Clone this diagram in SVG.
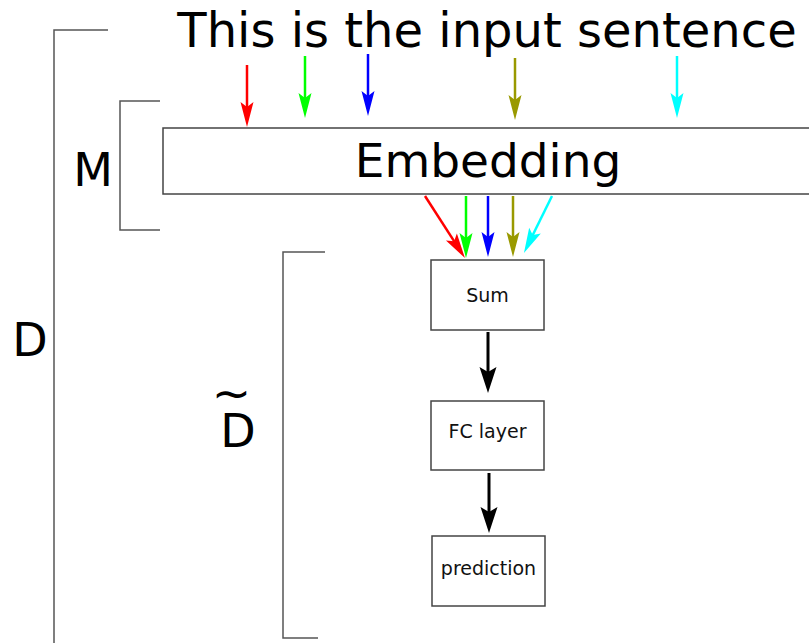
<svg xmlns="http://www.w3.org/2000/svg" width="809" height="643" viewBox="0 0 809 643">
<style>
text{font-family:"DejaVu Sans","Liberation Sans",sans-serif;fill:#000}
.big{font-size:48px}
.lbl{font-size:46px}
.sm{font-size:19px;fill:#111}
.box{fill:#fff;stroke:#444;stroke-width:1.5}
.br{fill:none;stroke:#555;stroke-width:1.5}
.a{fill:none;stroke-width:2.5}
.k{fill:none;stroke:#000;stroke-width:3}
</style>
<defs>
<marker id="mr" markerUnits="userSpaceOnUse" orient="auto" refX="0" refY="0" markerWidth="40" markerHeight="40" viewBox="-20 -20 40 40" overflow="visible"><path d="M18,0 L-7,-6.5 L-2,0 L-7,6.5 Z" fill="#ff0000"/></marker>
<marker id="mg" markerUnits="userSpaceOnUse" orient="auto" refX="0" refY="0" markerWidth="40" markerHeight="40" viewBox="-20 -20 40 40" overflow="visible"><path d="M18,0 L-7,-6.5 L-2,0 L-7,6.5 Z" fill="#00ff00"/></marker>
<marker id="mb" markerUnits="userSpaceOnUse" orient="auto" refX="0" refY="0" markerWidth="40" markerHeight="40" viewBox="-20 -20 40 40" overflow="visible"><path d="M18,0 L-7,-6.5 L-2,0 L-7,6.5 Z" fill="#0000ff"/></marker>
<marker id="mo" markerUnits="userSpaceOnUse" orient="auto" refX="0" refY="0" markerWidth="40" markerHeight="40" viewBox="-20 -20 40 40" overflow="visible"><path d="M18,0 L-7,-6.5 L-2,0 L-7,6.5 Z" fill="#999900"/></marker>
<marker id="mc" markerUnits="userSpaceOnUse" orient="auto" refX="0" refY="0" markerWidth="40" markerHeight="40" viewBox="-20 -20 40 40" overflow="visible"><path d="M18,0 L-7,-6.5 L-2,0 L-7,6.5 Z" fill="#00ffff"/></marker>
<marker id="mk" markerUnits="userSpaceOnUse" orient="auto" refX="0" refY="0" markerWidth="40" markerHeight="40" viewBox="-20 -20 40 40" overflow="visible"><path d="M20,0 L-6,-8.5 L-1,0 L-6,8.5 Z" fill="#000"/></marker>
</defs>
<rect width="809" height="643" fill="#fff"/>

<g id="brackets">
<path class="br" d="M108,30 H54 V650"/>
<path class="br" d="M160,101 H120 V230 H160"/>
<path class="br" d="M325,252 H283 V638 H318"/>
</g>

<g id="labels">
<text class="big" x="487" y="47" text-anchor="middle">This is the input sentence</text>
<text class="lbl" x="93" y="186" text-anchor="middle">M</text>
<text class="lbl" x="30" y="356" text-anchor="middle">D</text>
<text id="dtilde" class="lbl" text-anchor="middle"><tspan x="231.5" y="409" style="font-size:47px">~</tspan><tspan x="238" y="447">D</tspan></text>
</g>

<g id="embedding">
<rect class="box" x="163" y="128" width="680" height="66"/>
<text class="big" x="488" y="177" text-anchor="middle" style="font-size:47px">Embedding</text>
</g>

<g id="sum">
<rect class="box" x="431" y="260" width="113" height="70"/>
<text class="sm" x="487.5" y="302" text-anchor="middle">Sum</text>
</g>

<g id="fc">
<rect class="box" x="431" y="401" width="113" height="69"/>
<text class="sm" x="487.5" y="438" text-anchor="middle">FC layer</text>
</g>

<g id="prediction">
<rect class="box" x="432" y="536" width="113" height="70"/>
<text class="sm" x="488.5" y="575" text-anchor="middle">prediction</text>
</g>

<g id="connectors">
<path class="a" stroke="#ff0000" d="M247,65 V109" marker-end="url(#mr)"/>
<path class="a" stroke="#00ff00" d="M305,56 V100" marker-end="url(#mg)"/>
<path class="a" stroke="#0000ff" d="M368,54 V98" marker-end="url(#mb)"/>
<path class="a" stroke="#999900" d="M515,58 V102" marker-end="url(#mo)"/>
<path class="a" stroke="#00ffff" d="M677,56 V100" marker-end="url(#mc)"/>

<path class="a" stroke="#ff0000" d="M425,196 L455.2,242.9" marker-end="url(#mr)"/>
<path class="a" stroke="#00ff00" d="M466,196 V240" marker-end="url(#mg)"/>
<path class="a" stroke="#0000ff" d="M488,196 V239" marker-end="url(#mb)"/>
<path class="a" stroke="#999900" d="M513,196 V239" marker-end="url(#mo)"/>
<path class="a" stroke="#00ffff" d="M552,196 L531.9,236.8" marker-end="url(#mc)"/>

<path class="k" d="M488,332 V373" marker-end="url(#mk)"/>
<path class="k" d="M489,473 V513" marker-end="url(#mk)"/>
</g>
</svg>
